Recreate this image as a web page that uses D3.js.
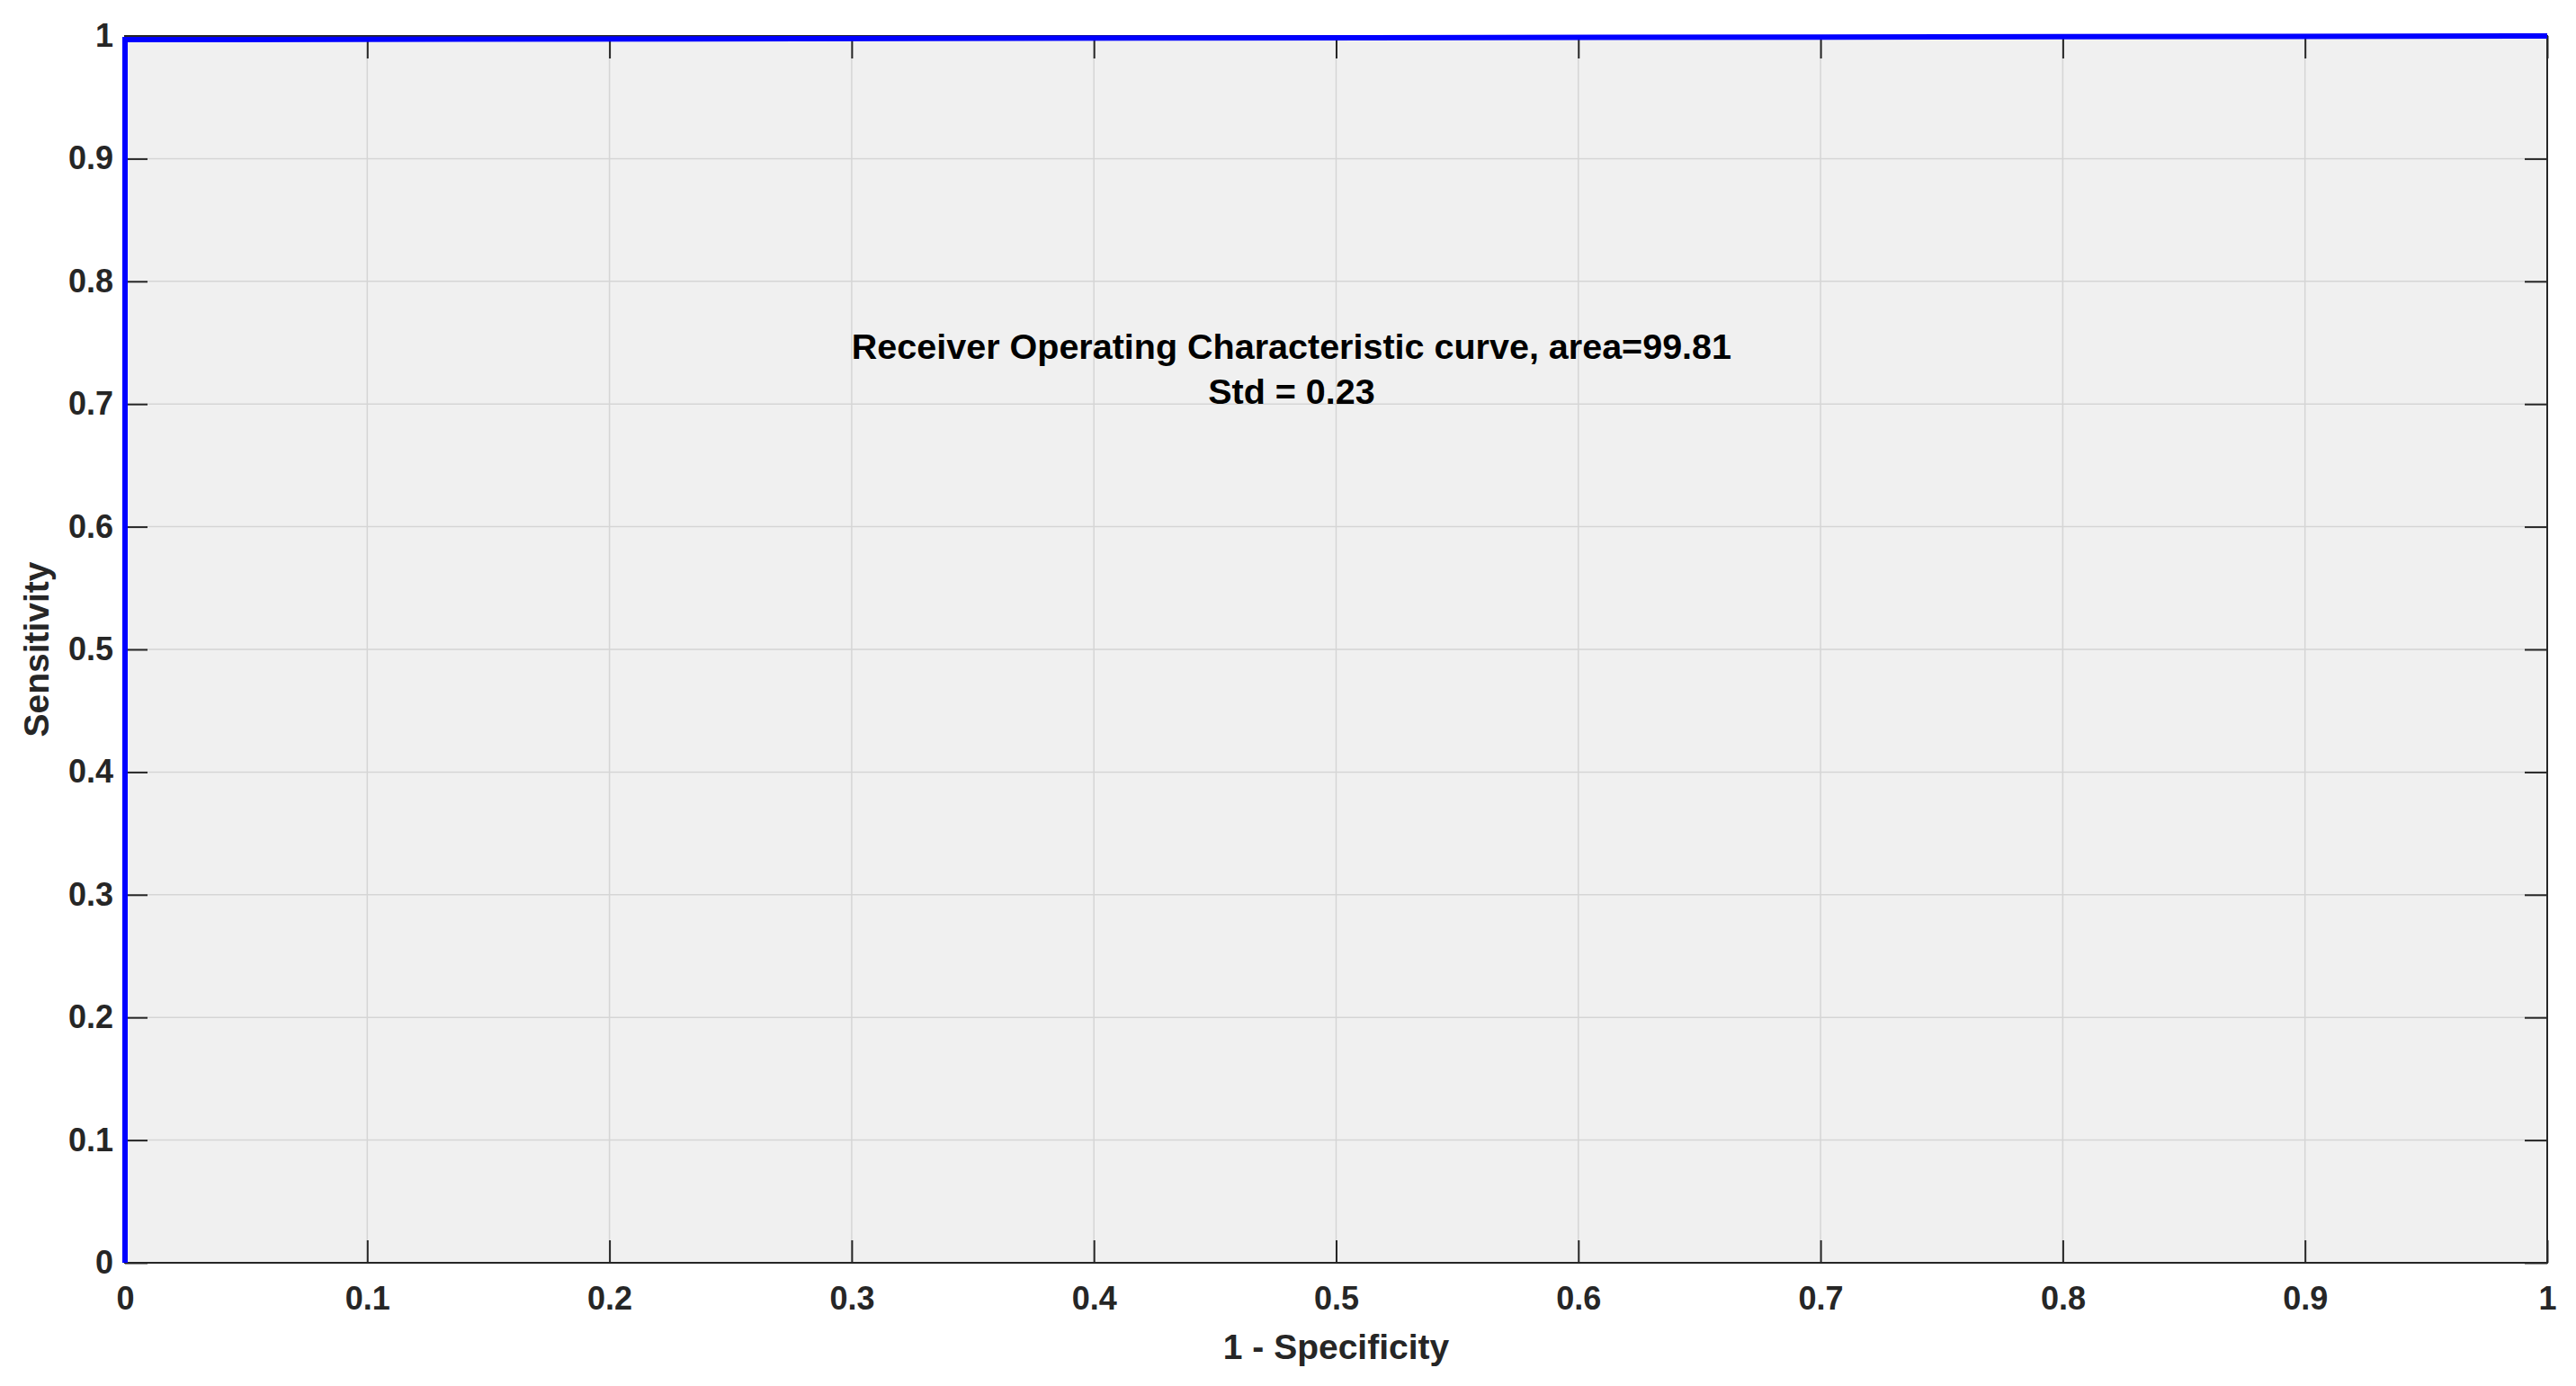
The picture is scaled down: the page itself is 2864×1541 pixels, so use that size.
<!DOCTYPE html>
<html>
<head>
<meta charset="utf-8">
<script src="https://cdn.jsdelivr.net/npm/d3@7"></script>
<style>
  body { margin: 0; background: #ffffff; }
  text { font-family: "Liberation Sans", Arial, sans-serif; font-weight: bold; fill: #262626; }
</style>
</head>
<body>
<div id="chart"></div>
<script>
// ROC curve points (1 - specificity, sensitivity)
var fpr = [0, 0, 1];
var tpr = [0, 0.997, 1];

var xTicks = [0, 0.1, 0.2, 0.3, 0.4, 0.5, 0.6, 0.7, 0.8, 0.9, 1];
var xTickLabels = ["0", "0.1", "0.2", "0.3", "0.4", "0.5", "0.6", "0.7", "0.8", "0.9", "1"];
var yTicks = [0, 0.1, 0.2, 0.3, 0.4, 0.5, 0.6, 0.7, 0.8, 0.9, 1];
var yTickLabels = ["0", "0.1", "0.2", "0.3", "0.4", "0.5", "0.6", "0.7", "0.8", "0.9", "1"];

var noteLines = ["Receiver Operating Characteristic curve, area=99.81", "Std = 0.23"];
var xLabel = "1 - Specificity";
var yLabel = "Sensitivity";

var width = 2864;
var height = 1541;
var margin = { left: 139, top: 40 };
var w = 2693;
var h = 1364;

var x = d3.scaleLinear().domain([0, 1]).range([0, w]);
var y = d3.scaleLinear().domain([0, 1]).range([h, 0]);

var svg = d3.select('#chart')
  .append('svg')
  .attr('width', width)
  .attr('height', height);

var g = svg.append('g')
  .attr('transform', 'translate(' + margin.left + ',' + margin.top + ')');

// axes background
g.append('rect')
  .attr('width', w)
  .attr('height', h)
  .attr('fill', '#f0f0f0');

// grid
g.selectAll('.gx')
  .data(xTicks)
  .enter()
  .append('line')
  .attr('x1', (d) => x(d)).attr('x2', (d) => x(d))
  .attr('y1', 0).attr('y2', h)
  .attr('stroke', '#d5d5d5')
  .attr('stroke-width', 1.5);

g.selectAll('.gy')
  .data(yTicks)
  .enter()
  .append('line')
  .attr('x1', 0).attr('x2', w)
  .attr('y1', (d) => y(d)).attr('y2', (d) => y(d))
  .attr('stroke', '#d5d5d5')
  .attr('stroke-width', 1.5);

// tick axes, ticks pointing inward
function fmt(ticks, labels) {
  return (d) => labels[ticks.indexOf(d)];
}

var axBottom = g.append('g')
  .attr('transform', 'translate(0,' + h + ')')
  .call(d3.axisBottom(x).tickValues(xTicks).tickFormat(fmt(xTicks, xTickLabels))
    .tickSizeInner(-25).tickSizeOuter(0).tickPadding(26));

var axLeft = g.append('g')
  .call(d3.axisLeft(y).tickValues(yTicks).tickFormat(fmt(yTicks, yTickLabels))
    .tickSizeInner(-25).tickSizeOuter(0).tickPadding(13));

var axTop = g.append('g')
  .call(d3.axisTop(x).tickValues(xTicks).tickFormat('')
    .tickSizeInner(-25).tickSizeOuter(0));

var axRight = g.append('g')
  .attr('transform', 'translate(' + w + ',0)')
  .call(d3.axisRight(y).tickValues(yTicks).tickFormat('')
    .tickSizeInner(-25).tickSizeOuter(0));

[axBottom, axLeft, axTop, axRight].forEach(function(a) {
  a.select('.domain').remove();
  a.selectAll('line').attr('stroke', '#262626').attr('stroke-width', 2);
  a.selectAll('text').attr('font-size', 36).attr('fill', '#262626')
    .style('font-family', '"Liberation Sans", Arial, sans-serif').style('font-weight', 'bold');
});

// frame
g.append('rect')
  .attr('width', w)
  .attr('height', h)
  .attr('fill', 'none')
  .attr('stroke', '#262626')
  .attr('stroke-width', 2);

// roc curve
var line = d3.line()
  .x((d) => x(d[0]))
  .y((d) => y(d[1]));

g.append('path')
  .datum(d3.zip(fpr, tpr))
  .attr('d', line)
  .attr('fill', 'none')
  .attr('stroke', '#0000ff')
  .attr('stroke-width', 6);

// annotation text
g.selectAll('.note')
  .data(noteLines)
  .enter()
  .append('text')
  .attr('x', x(0.4816))
  .attr('y', (d, i) => y(0.737) + i * 50)
  .attr('text-anchor', 'middle')
  .attr('font-size', 39.5)
  .style('fill', '#000000')
  .text((d) => d);

// axis labels
g.append('text')
  .attr('x', w / 2)
  .attr('y', h + 107)
  .attr('text-anchor', 'middle')
  .attr('font-size', 39)
  .text(xLabel);

g.append('text')
  .attr('transform', 'translate(' + (-85) + ',' + (h / 2) + ') rotate(-90)')
  .attr('text-anchor', 'middle')
  .attr('font-size', 39)
  .text(yLabel);
</script>
</body>
</html>
